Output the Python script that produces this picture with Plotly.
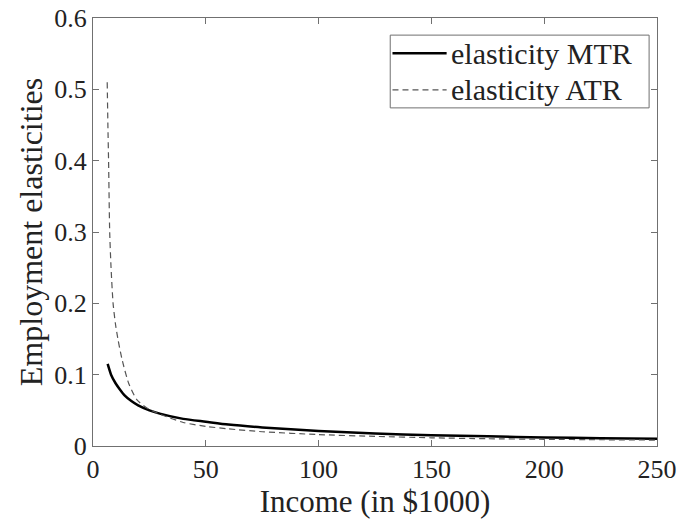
import plotly.graph_objects as go

# Data
income_mtr = [6.5, 8, 10, 12, 14, 17, 20, 25, 30, 40, 50, 60, 75, 100, 125, 150, 175, 200, 225, 250]
elasticity_mtr = [0.115, 0.100, 0.088, 0.079, 0.071, 0.063, 0.057, 0.050, 0.045, 0.038, 0.034,
                  0.030, 0.026, 0.021, 0.0175, 0.015, 0.0135, 0.012, 0.011, 0.0102]

income_atr = [6.3, 6.6, 6.9, 7.4, 8.0, 8.9, 10, 11.1, 12.9, 15.8, 19.5, 25, 30.6, 40, 50, 60,
              75, 100, 125, 150, 175, 200, 225, 250]
elasticity_atr = [0.51, 0.45, 0.40, 0.30, 0.25, 0.20, 0.17, 0.149, 0.121, 0.088, 0.0645, 0.051,
                  0.0435, 0.033, 0.0275, 0.024, 0.020, 0.016, 0.0135, 0.0115, 0.0102, 0.0094,
                  0.0088, 0.0083]

x_ticks = [0, 50, 100, 150, 200, 250]
y_ticks = [0, 0.1, 0.2, 0.3, 0.4, 0.5, 0.6]
y_tick_labels = ["0", "0.1", "0.2", "0.3", "0.4", "0.5", "0.6"]
series_names = ["elasticity MTR", "elasticity ATR"]

FONT = "Liberation Serif"
AX = "#707070"
TXT = "#222222"
MTR_STYLE = dict(color="black", width=2.5)
ATR_STYLE = dict(color="#555555", width=1.2, dash="6px,4px")

fig = go.Figure()
fig.add_trace(go.Scatter(x=income_mtr, y=elasticity_mtr, mode="lines", name=series_names[0],
                         showlegend=False,
                         line=dict(**MTR_STYLE, shape="spline", smoothing=0.6)))
fig.add_trace(go.Scatter(x=income_atr, y=elasticity_atr, mode="lines", name=series_names[1],
                         showlegend=False,
                         line=dict(**ATR_STYLE, shape="spline", smoothing=0.6)))

# Manual legend (box, line samples, labels) in paper coordinates
fig.add_shape(type="rect", xref="paper", yref="paper", x0=0.527, x1=0.986, y0=0.790, y1=0.960,
              line=dict(color=AX, width=1), fillcolor="white", layer="above")
rows = [0.9175, 0.832]
styles = [MTR_STYLE, ATR_STYLE]
for name, yy, st in zip(series_names, rows, styles):
    fig.add_shape(type="line", xref="paper", yref="paper", x0=0.531, x1=0.627, y0=yy, y1=yy,
                  line=st, layer="above")
    fig.add_annotation(xref="paper", yref="paper", x=0.632, y=yy, text=name, showarrow=False,
                       xanchor="left", yanchor="middle",
                       font=dict(family=FONT, size=30, color=TXT))

axis_common = dict(showgrid=False, zeroline=False, showline=True, linecolor=AX, linewidth=1.2,
                   mirror="ticks", ticks="inside", ticklen=6, tickcolor=AX, tickwidth=1,
                   automargin=False,
                   tickfont=dict(family=FONT, size=26, color=TXT))

fig.update_layout(
    width=679, height=521,
    margin=dict(l=93, r=22, t=18, b=75),
    paper_bgcolor="white", plot_bgcolor="white",
    showlegend=False,
    xaxis=dict(range=[0, 250], tickvals=x_ticks, ticktext=[str(v) for v in x_ticks],
               title=dict(text="Income (in $1000)", font=dict(family=FONT, size=31, color=TXT),
                          standoff=6),
               **axis_common),
    yaxis=dict(range=[0, 0.6], tickvals=y_ticks, ticktext=y_tick_labels,
               title=dict(text="Employment elasticities", font=dict(family=FONT, size=32, color=TXT),
                          standoff=2),
               **axis_common),
)

fig.write_html("out.html")
